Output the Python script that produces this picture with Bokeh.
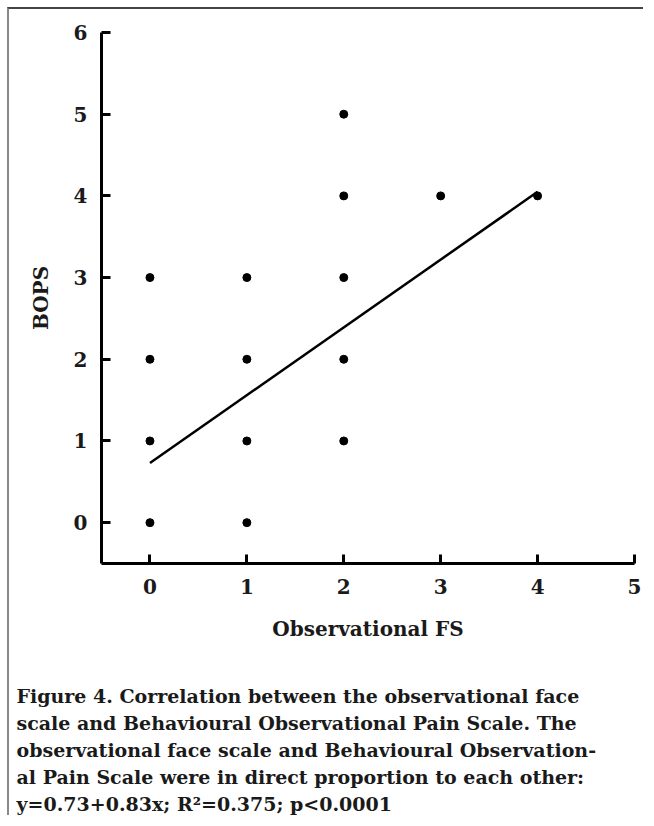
from bokeh.plotting import figure
from bokeh.models import Range1d, FixedTicker, Title
from bokeh.embed import file_html
from bokeh.resources import INLINE

# Data
fs_x = [0, 0, 0, 0, 1, 1, 1, 1, 2, 2, 2, 2, 2, 3, 4]
bops_y = [0, 1, 2, 3, 0, 1, 2, 3, 1, 2, 3, 4, 5, 4, 4]
fit_intercept = 0.73
fit_slope = 0.83
fit_x = [0, 4]
fit_y = [fit_intercept + fit_slope * v for v in fit_x]
x_ticks = [0, 1, 2, 3, 4, 5]
y_ticks = [0, 1, 2, 3, 4, 5, 6]
caption_lines = [
    "Figure 4. Correlation between the observational face",
    "scale and Behavioural Observational Pain Scale. The",
    "observational face scale and Behavioural Observation-",
    "al Pain Scale were in direct proportion to each other:",
    "y=0.73+0.83x; R\u00b2=0.375; p<0.0001",
]

FONT = "DejaVu Serif"
INK = "#1a1a1a"

p = figure(width=636, height=808, output_backend="svg", toolbar_location=None,
           x_range=Range1d(-0.5, 5), y_range=Range1d(-0.5, 6),
           min_border_left=92, min_border_right=11, min_border_top=23,
           min_border_bottom=254)
p.styles = {"border-top": "2px solid #444", "border-left": "2px solid #888",
            "margin-left": "7px", "margin-top": "7px"}
p.outline_line_color = None
p.grid.visible = False
p.background_fill_color = "white"
p.border_fill_color = "white"

for ax in (p.xaxis, p.yaxis):
    ax.axis_line_width = 3
    ax.axis_line_color = "black"
    ax.major_tick_line_width = 3
    ax.major_tick_line_color = "black"
    ax.major_tick_in = 9
    ax.major_tick_out = 0
    ax.minor_tick_line_color = None
    ax.major_label_text_font = FONT
    ax.major_label_text_font_style = "bold"
    ax.major_label_text_font_size = "20px"
    ax.major_label_text_color = INK
    ax.axis_label_text_font = FONT
    ax.axis_label_text_font_style = "bold"
    ax.axis_label_text_font_size = "20px"
    ax.axis_label_text_color = INK

p.xaxis.ticker = FixedTicker(ticks=x_ticks)
p.yaxis.ticker = FixedTicker(ticks=y_ticks)
p.xaxis.major_label_standoff = 15
p.yaxis.major_label_standoff = 14
p.xaxis.axis_label = "Observational FS"
p.yaxis.axis_label = "BOPS"
p.xaxis.axis_label_standoff = 20
p.yaxis.axis_label_standoff = 18

p.line(fit_x, fit_y, line_color="black", line_width=2.5)
p.scatter(fs_x, bops_y, size=8, fill_color="black", line_color="black")

# spacer between the axis title and the caption
p.add_layout(Title(text=" ", text_font=FONT, text_font_size="17px",
                   standoff=16), "below")
for txt in caption_lines:
    p.add_layout(Title(text=txt, align="left", offset=-85,
                       text_font=FONT, text_font_style="bold",
                       text_font_size="19px", text_color=INK,
                       standoff=3.4), "below")

open("out.html", "w").write(file_html(p, INLINE))
